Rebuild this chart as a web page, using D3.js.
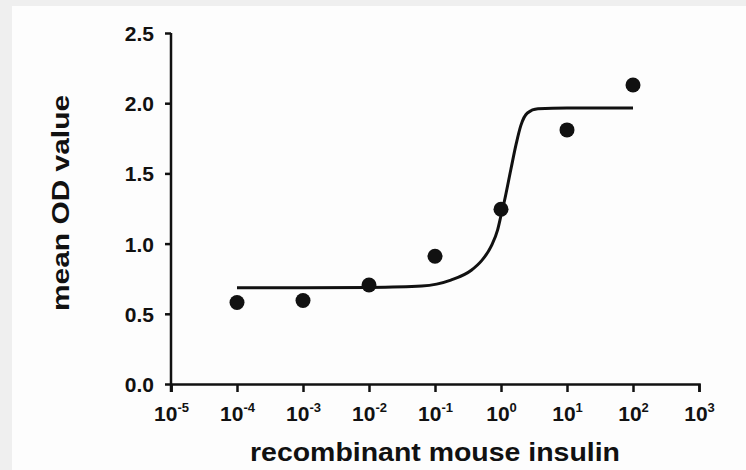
<!DOCTYPE html>
<html>
<head>
<meta charset="utf-8">
<script src="https://cdn.jsdelivr.net/npm/d3@7"></script>
<style>
  body { margin: 0; background: #efefef; }
  svg { display: block; }
  text { font-family: "Liberation Sans", Arial, sans-serif; font-weight: bold; fill: #111; }
</style>
</head>
<body>
<div id="chart"></div>
<script>
// insulin concentration (log10) and mean OD readings
var doseExp = [-4, -3, -2, -1, 0, 1, 2];
var meanOD = [0.58, 0.595, 0.705, 0.91, 1.245, 1.81, 2.13];

// fitted curve (log10 conc, OD)
var fitExp = [-4, -3, -2, -1.2, -0.76, -0.45, -0.3, -0.15, -0.05, 0, 0.05, 0.15, 0.23, 0.3, 0.4, 0.56, 1, 2];
var fitOD = [0.685, 0.685, 0.688, 0.698, 0.74, 0.81, 0.875, 0.98, 1.10, 1.20, 1.30, 1.53, 1.71, 1.84, 1.93, 1.96, 1.966, 1.966];

var xTickExp = [-5, -4, -3, -2, -1, 0, 1, 2, 3];
var yTicks = [0, 0.5, 1.0, 1.5, 2.0, 2.5];

var width = 746, height = 470;

var svg = d3.select("#chart")
  .append("svg")
  .attr("width", width)
  .attr("height", height);

// white panel on the grey page
svg.append("rect")
  .attr("x", 12)
  .attr("y", 6)
  .attr("width", width - 12)
  .attr("height", height - 6)
  .attr("fill", "#fdfdfd");

var xPositionScale = d3.scaleLog().domain([1e-5, 1e3]).range([171, 699]);
var yPositionScale = d3.scaleLinear().domain([0, 2.5]).range([384, 33]);

// y axis
var yAxis = d3.axisLeft(yPositionScale)
  .tickValues(yTicks)
  .tickSize(6)
  .tickPadding(11)
  .tickFormat(d3.format(".1f"));

var yG = svg.append("g")
  .attr("class", "axis y-axis")
  .attr("transform", "translate(" + xPositionScale(1e-5) + ",0)")
  .call(yAxis);

// x axis
var xAxis = d3.axisBottom(xPositionScale)
  .tickValues(xTickExp.map(function(e) { return Math.pow(10, e); }))
  .tickSize(8)
  .tickFormat("");

var xG = svg.append("g")
  .attr("class", "axis x-axis")
  .attr("transform", "translate(0," + yPositionScale(0) + ")")
  .call(xAxis);

// axis styling
svg.selectAll(".axis .domain")
  .attr("stroke", "#111")
  .attr("stroke-width", 2.5);
svg.selectAll(".axis .tick line")
  .attr("stroke", "#111")
  .attr("stroke-width", 2.5);
yG.selectAll(".domain").attr("d", "M0," + yPositionScale(2.5) + "V" + (yPositionScale(0) + 8));
yG.selectAll(".tick text")
  .style("font-size", "21px")
  .attr("dy", "0.36em")
  .attr("fill", "#111");

// x tick labels: 10 with superscript exponent
xG.selectAll(".tick text").remove();
xG.selectAll(".tick")
  .data(xTickExp)
  .append("text")
  .attr("y", 37)
  .attr("text-anchor", "middle")
  .style("font-size", "21px")
  .each(function(e) {
    var t = d3.select(this);
    t.append("tspan").text("10");
    t.append("tspan")
      .attr("dy", -9)
      .style("font-size", "13px")
      .text(e < 0 ? "-" + Math.abs(e) : e);
  });

// fitted line
var line = d3.line()
  .x(function(d) { return xPositionScale(Math.pow(10, d[0])); })
  .y(function(d) { return yPositionScale(d[1]); })
  .curve(d3.curveMonotoneX);

svg.append("path")
  .datum(d3.zip(fitExp, fitOD))
  .attr("d", line)
  .attr("fill", "none")
  .attr("stroke", "#111")
  .attr("stroke-width", 3);

// data points
svg.selectAll(".dot")
  .data(d3.zip(doseExp, meanOD))
  .enter().append("circle")
    .attr("class", "dot")
    .attr("r", 7.5)
    .attr("fill", "#111")
    .attr("cx", function(d) { return xPositionScale(Math.pow(10, d[0])); })
    .attr("cy", function(d) { return yPositionScale(d[1]); });

// axis titles
svg.append("text")
  .attr("x", 435)
  .attr("y", 461)
  .attr("text-anchor", "middle")
  .style("font-size", "26px")
  .attr("textLength", 370)
  .attr("lengthAdjust", "spacingAndGlyphs")
  .text("recombinant mouse insulin");

svg.append("text")
  .attr("transform", "translate(69,203) rotate(-90)")
  .attr("text-anchor", "middle")
  .style("font-size", "24px")
  .attr("textLength", 216)
  .attr("lengthAdjust", "spacingAndGlyphs")
  .text("mean OD value");
</script>
</body>
</html>
